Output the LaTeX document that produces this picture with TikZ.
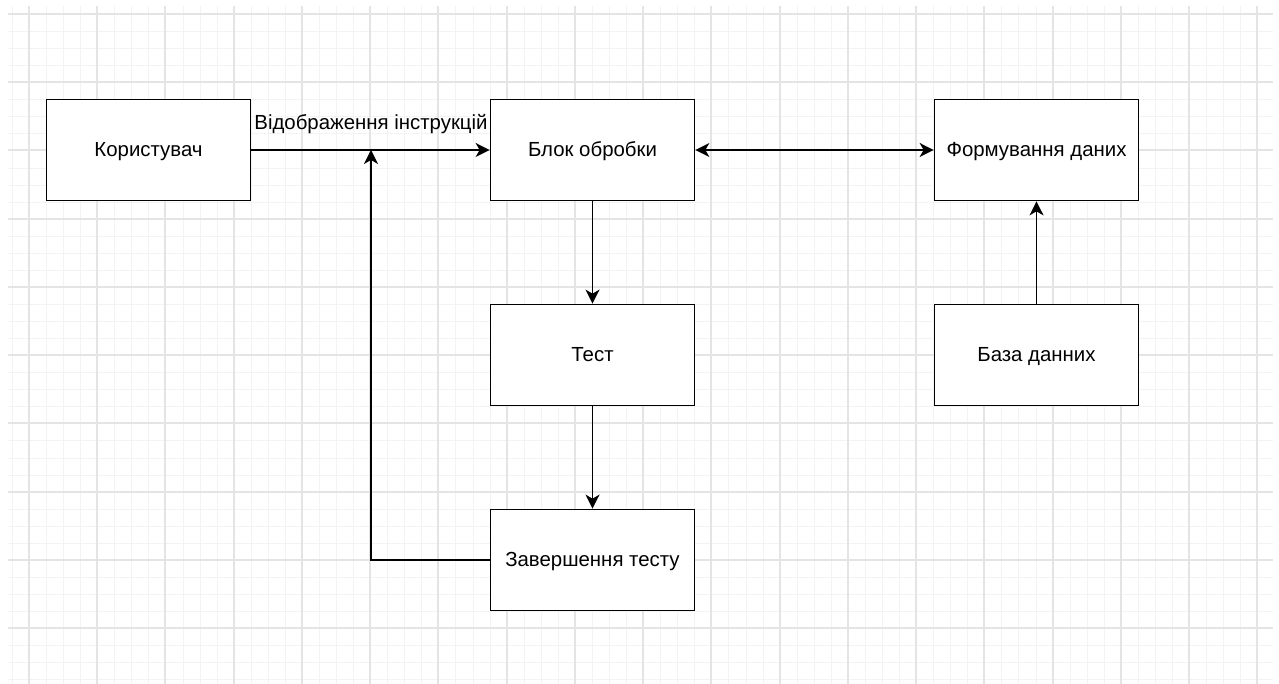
\documentclass[tikz,border=0pt]{standalone}
\usepackage{fontspec}
\setmainfont{Liberation Sans}
\usetikzlibrary{arrows.meta}
\definecolor{minorc}{RGB}{243,243,243}
\definecolor{majorc}{RGB}{228,228,228}
\begin{document}
\begin{tikzpicture}[x=1pt,y=-1pt,
  box/.style={draw=black, line width=1.7pt, fill=white, minimum width=204pt, minimum height=101pt, inner sep=0pt, text height=16pt, text depth=3.4pt, font=\fontsize{20.4}{24}\selectfont},
  tip/.tip={Stealth[length=14pt,width=14pt,inset=4pt]},
  conn/.style={line width=1.7pt, -tip},
  biconn/.style={line width=1.7pt, tip-tip},
  minorline/.style={draw=minorc, line width=1pt},
  majorline/.style={draw=majorc, line width=2pt},
  lbl/.style={font=\fontsize{20.4}{24}\selectfont, inner sep=0pt}
]
\useasboundingbox (0,0) rectangle (1279,684);
\fill[white] (0,0) rectangle (1279,684);
\begin{scope}
\clip (8,6) rectangle (1273,684);
\foreach \i in {0,...,75} {\pgfmathsetmacro\xx{round(11.94+17.06*\i)+0.5}\draw[minorline] (\xx,6) -- (\xx,684);}
\foreach \i in {0,...,41} {\pgfmathsetmacro\yy{round(-3.06+17.06*\i)+0.5}\draw[minorline] (8,\yy) -- (1273,\yy);}
\foreach \k in {0,...,18} {\pgfmathsetmacro\xx{round(29+68.24*\k)}\draw[majorline] (\xx,6) -- (\xx,684);}
\foreach \k in {0,...,9} {\pgfmathsetmacro\yy{round(14+68.24*\k)}\draw[majorline] (8,\yy) -- (1273,\yy);}
\end{scope}

\node[box] (user) at (148.5,150) {Користувач};
\node[box] (proc) at (592.5,150) {Блок обробки};
\node[box] (form) at (1036.5,150) {Формування даних};
\node[box] (test) at (592.5,355) {Тест};
\node[box] (db) at (1036.5,355) {База данних};
\node[box] (fin) at (592.5,560) {Завершення тесту};

\coordinate (join) at (371,150);

\draw[conn] (user.east) -- (proc.west);
\node[lbl] (instr) at (371,124) {Відображення інструкцій};
\draw[biconn] (proc.east) -- (form.west);
\draw[conn] (proc.south) -- (test.north);
\draw[conn] (test.south) -- (fin.north);
\draw[conn] (db.north) -- (form.south);
\draw[conn] (fin.west) -| (join);
\end{tikzpicture}
\end{document}
